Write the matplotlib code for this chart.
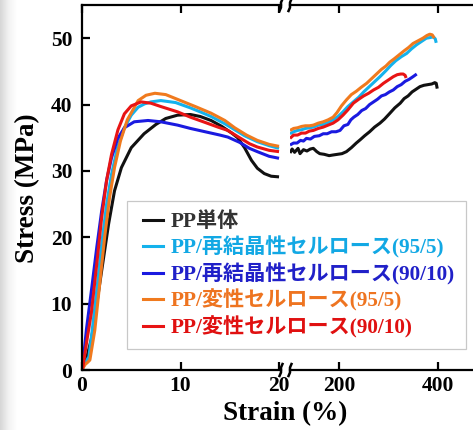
import numpy as np
import matplotlib
matplotlib.use("Agg")
import matplotlib.pyplot as plt
from matplotlib.lines import Line2D
from matplotlib.colors import LinearSegmentedColormap
from matplotlib.legend_handler import HandlerLine2D

W, H = 473, 430

names = ["PP単体", "PP/再結晶性セルロース(95/5)", "PP/再結晶性セルロース(90/10)",
         "PP/変性セルロース(95/5)", "PP/変性セルロース(90/10)"]
colors = ["#111111", "#14B2EC", "#1A1AE0", "#F07A1E", "#E81414"]
text_colors = ["#333333", "#12A8E4", "#2020C8", "#EE7420", "#E01010"]

# left panel (strain 0-20 %)
black_l_x = [0, 0.5, 1, 1.6, 2.2, 2.7, 3.3, 4, 5, 6.3, 7.5, 8.5, 9.7, 11, 12, 13.1, 14.2, 15.2, 15.8, 16.5, 17.2, 17.8, 18.5, 19.2, 20]
black_l_y = [0, 2, 5, 11, 17, 22, 27, 30.5, 33.5, 35.6, 37, 37.9, 38.4, 38.5, 38.2, 37.6, 36.7, 35.7, 35.0, 33.5, 31.6, 30.4, 29.6, 29.2, 29.1]
cyan_l_x = [0, 0.3, 0.7, 1, 1.5, 2, 2.5, 3, 3.6, 4.3, 5, 5.7, 6.35, 7, 8, 9.5, 11, 12, 13.1, 14.5, 15.5, 16.5, 17.8, 19, 20]
cyan_l_y = [0, 1, 2, 5.5, 12, 19, 25, 29.5, 33.5, 36.5, 38.4, 39.6, 40.1, 40.4, 40.6, 40.3, 39.5, 38.9, 38.2, 37.1, 36.2, 35.3, 34.4, 33.8, 33.4]
blue_l_x = [0, 0.2, 0.44, 1, 1.5, 2, 2.5, 3, 3.6, 4.3, 5.3, 6.7, 8, 9.7, 11, 12.5, 14, 14.8, 16, 17, 17.8, 19, 20]
blue_l_y = [0, 2.5, 6, 12.5, 18.5, 24, 28.6, 32, 34.8, 36.5, 37.4, 37.6, 37.4, 36.9, 36.4, 35.9, 35.4, 35.1, 34.3, 33.4, 32.9, 32.2, 31.9]
orange_l_x = [0, 0.3, 0.6, 0.8, 1.3, 1.8, 2.3, 2.8, 3.3, 3.9, 4.6, 5.7, 6.5, 7.4, 8.5, 10, 11.5, 13.1, 14.5, 15.5, 16.7, 17.8, 19, 20]
orange_l_y = [0, 0.8, 1.2, 1.5, 6, 13, 20, 26, 30.5, 34.5, 37.7, 40.6, 41.4, 41.7, 41.5, 40.6, 39.7, 38.7, 37.6, 36.5, 35.4, 34.6, 34.0, 33.7]
red_l_x = [0, 0.1, 0.5, 0.95, 1.5, 2.0, 2.5, 3, 3.65, 4.3, 5, 6, 7, 8, 9.7, 11, 12.5, 13.8, 14.8, 16, 17, 17.8, 19, 20]
red_l_y = [0, 0.5, 4.5, 8.6, 16, 23, 28.6, 32.5, 36.2, 38.6, 39.8, 40.4, 40.2, 39.7, 38.9, 38.1, 37.3, 36.6, 36.1, 35.0, 34.1, 33.6, 33.1, 32.9]

# right panel (strain 100-400 %)
black_r_x = [100.7, 105, 110, 117, 121, 128, 135, 142, 148, 155, 161, 170, 180, 188, 197, 206, 215, 225, 235, 243, 252, 262, 272, 283, 292, 302, 313, 324, 332, 340, 348, 356, 364, 372, 380, 388, 394, 397, 399]
black_r_y = [32.7, 33.3, 32.8, 33.4, 32.6, 33.2, 33.0, 33.3, 33.4, 32.9, 32.6, 32.5, 32.3, 32.4, 32.5, 32.6, 32.9, 33.5, 34.2, 34.7, 35.3, 35.9, 36.6, 37.2, 37.8, 38.6, 39.5, 40.2, 40.9, 41.3, 41.9, 42.3, 42.7, 42.9, 43.0, 43.1, 43.3, 43.2, 42.4]
cyan_r_x = [100.7, 108, 116, 124, 132, 140, 148, 158, 168, 178, 188, 198, 208, 218, 229, 240, 250, 260, 270, 283, 295, 305, 315, 326, 337, 347, 357, 367, 377, 385, 391, 395, 397]
cyan_r_y = [35.6, 35.9, 36.1, 36.2, 36.4, 36.5, 36.6, 36.9, 37.0, 37.3, 37.7, 38.2, 38.9, 39.7, 40.4, 41.1, 41.9, 42.6, 43.3, 44.2, 45.1, 45.9, 46.6, 47.2, 47.7, 48.4, 49.0, 49.5, 50.0, 50.1, 50.2, 49.9, 49.3]
blue_r_x = [100.7, 108, 115, 122, 128, 134, 142, 150, 160, 168, 176, 185, 194, 202, 210, 218, 224, 230, 238, 246, 254, 262, 270, 278, 286, 294, 302, 310, 318, 326, 334, 342, 350, 357.5]
blue_r_y = [33.9, 34.2, 34.2, 34.6, 34.5, 34.9, 34.8, 35.2, 35.3, 35.6, 35.6, 35.9, 35.9, 36.1, 36.8, 37.0, 37.7, 38.1, 38.5, 39.1, 39.4, 40.0, 40.4, 40.8, 41.3, 41.5, 41.9, 42.2, 42.7, 43.0, 43.5, 43.8, 44.2, 44.6]
orange_r_x = [100.7, 108, 116, 124, 132, 140, 148, 158, 168, 178, 188, 196, 205, 215, 225, 235, 245, 256, 266, 276, 286, 295, 303, 312, 322, 332, 341, 350, 360, 370, 378, 384, 389, 393]
orange_r_y = [36.1, 36.4, 36.5, 36.7, 36.8, 36.8, 36.9, 37.2, 37.4, 37.7, 38.1, 38.8, 39.8, 40.7, 41.5, 42.0, 42.6, 43.2, 43.9, 44.6, 45.3, 45.8, 46.4, 46.9, 47.5, 48.1, 48.6, 49.2, 49.6, 50.0, 50.4, 50.6, 50.5, 50.0]
red_r_x = [100.7, 108, 116, 124, 132, 140, 148, 158, 168, 178, 188, 198, 208, 218, 229, 240, 250, 260, 270, 280, 290, 300, 310, 318, 325, 330, 334, 336]
red_r_y = [34.9, 35.4, 35.4, 35.7, 35.7, 36.0, 36.1, 36.4, 36.6, 36.9, 37.2, 37.7, 38.4, 39.2, 40.2, 40.8, 41.3, 41.7, 42.2, 42.6, 43.2, 43.7, 44.2, 44.5, 44.6, 44.6, 44.4, 44.0]

left_series = [(black_l_x, black_l_y), (cyan_l_x, cyan_l_y), (blue_l_x, blue_l_y),
               (orange_l_x, orange_l_y), (red_l_x, red_l_y)]
right_series = [(black_r_x, black_r_y), (cyan_r_x, cyan_r_y), (blue_r_x, blue_r_y),
                (orange_r_x, orange_r_y), (red_r_x, red_r_y)]

yticks = [0, 10, 20, 30, 40, 50]
xticks_left = [0, 10, 20]
xticks_right = [200, 400]

serif = ["Liberation Serif", "Noto Sans CJK JP", "DejaVu Sans"]
plt.rcParams["font.family"] = serif
plt.rcParams["font.weight"] = "bold"

fig = plt.figure(figsize=(W / 100, H / 100), dpi=100)

def fx(px):
    return px / W

def fy(py):
    return 1 - py / H

# faint shadow at the left edge
sh = fig.add_axes([0, 0, fx(16), 1], zorder=-5)
shade = LinearSegmentedColormap.from_list("shade", ["#d6d6d6", "#f2f2f2", "#ffffff"])
grad = np.linspace(0, 1, 64)[None, :]
sh.imshow(grad, cmap=shade, aspect="auto", vmin=0, vmax=1, extent=[0, 1, 0, 1])
sh.axis("off")

bottom = fy(370)
height = fy(5) - fy(370)
axL = fig.add_axes([fx(82), bottom, fx(281) - fx(82), height])
axR = fig.add_axes([fx(290), bottom, fx(473) - fx(290), height])

lw = 2.2
for (x, y), c in zip(left_series, colors):
    axL.plot(x, y, color=c, lw=lw, solid_capstyle="butt")
for (x, y), c in zip(right_series, colors):
    axR.plot(x, y, color=c, lw=lw, solid_capstyle="butt")

axL.set_xlim(0, 20.2)
axR.set_xlim(100.7, 471.5)
tick_fs = 15.5
for ax in (axL, axR):
    ax.set_ylim(0, 55)
    for s in ax.spines.values():
        s.set_linewidth(1.6)
    ax.tick_params(direction="in", length=6, width=1.6, top=True, labelsize=tick_fs)

axL.spines["right"].set_visible(False)
axL.set_xticks(xticks_left)
axL.set_yticks(yticks)
axL.tick_params(axis="x", pad=4)
axL.tick_params(axis="y", pad=7, right=False)

axR.spines["left"].set_visible(False)
axR.spines["right"].set_visible(False)
axR.set_xticks(xticks_right)
axR.set_yticks([])
axR.tick_params(axis="x", pad=4)

for ax in (axL, axR):
    for lab in ax.get_xticklabels() + ax.get_yticklabels():
        lab.set_fontweight("bold")

# axis break marks
for bx in (281, 290):
    for by in (5, 370):
        xs = [fx(bx + 1.5), fx(bx), fx(bx), fx(bx - 1.5)]
        ys = [fy(by - 6), fy(by - 2.5), fy(by + 2.5), fy(by + 6)]
        fig.add_artist(Line2D(xs, ys, color="black", lw=1.8, transform=fig.transFigure))

fig.text(fx(285), fy(414), "Strain (%)", ha="center", va="center", fontsize=19.5, fontweight="bold")
fig.text(fx(28), fy(188), "Stress (MPa)", ha="center", va="center", rotation=90, fontsize=19.5, fontweight="bold")

leg_fs = 15.2
handles = [Line2D([], [], color=c, lw=2.2) for c in colors]
handler = HandlerLine2D(xpad=0.25)
leg = fig.legend(handles, names, loc="upper left", bbox_to_anchor=(fx(127), fy(201)),
                 bbox_transform=fig.transFigure, frameon=True, fancybox=False,
                 edgecolor="#c8c8c8", framealpha=1, handlelength=1.2, handletextpad=0.34,
                 labelspacing=0.2, borderpad=0.52, borderaxespad=0,
                 handler_map={Line2D: handler},
                 prop={"family": serif, "weight": "bold", "size": leg_fs})
leg.get_frame().set_linewidth(0.9)
for t, c in zip(leg.get_texts(), text_colors):
    t.set_color(c)

fig.savefig("out.png", dpi=100)
